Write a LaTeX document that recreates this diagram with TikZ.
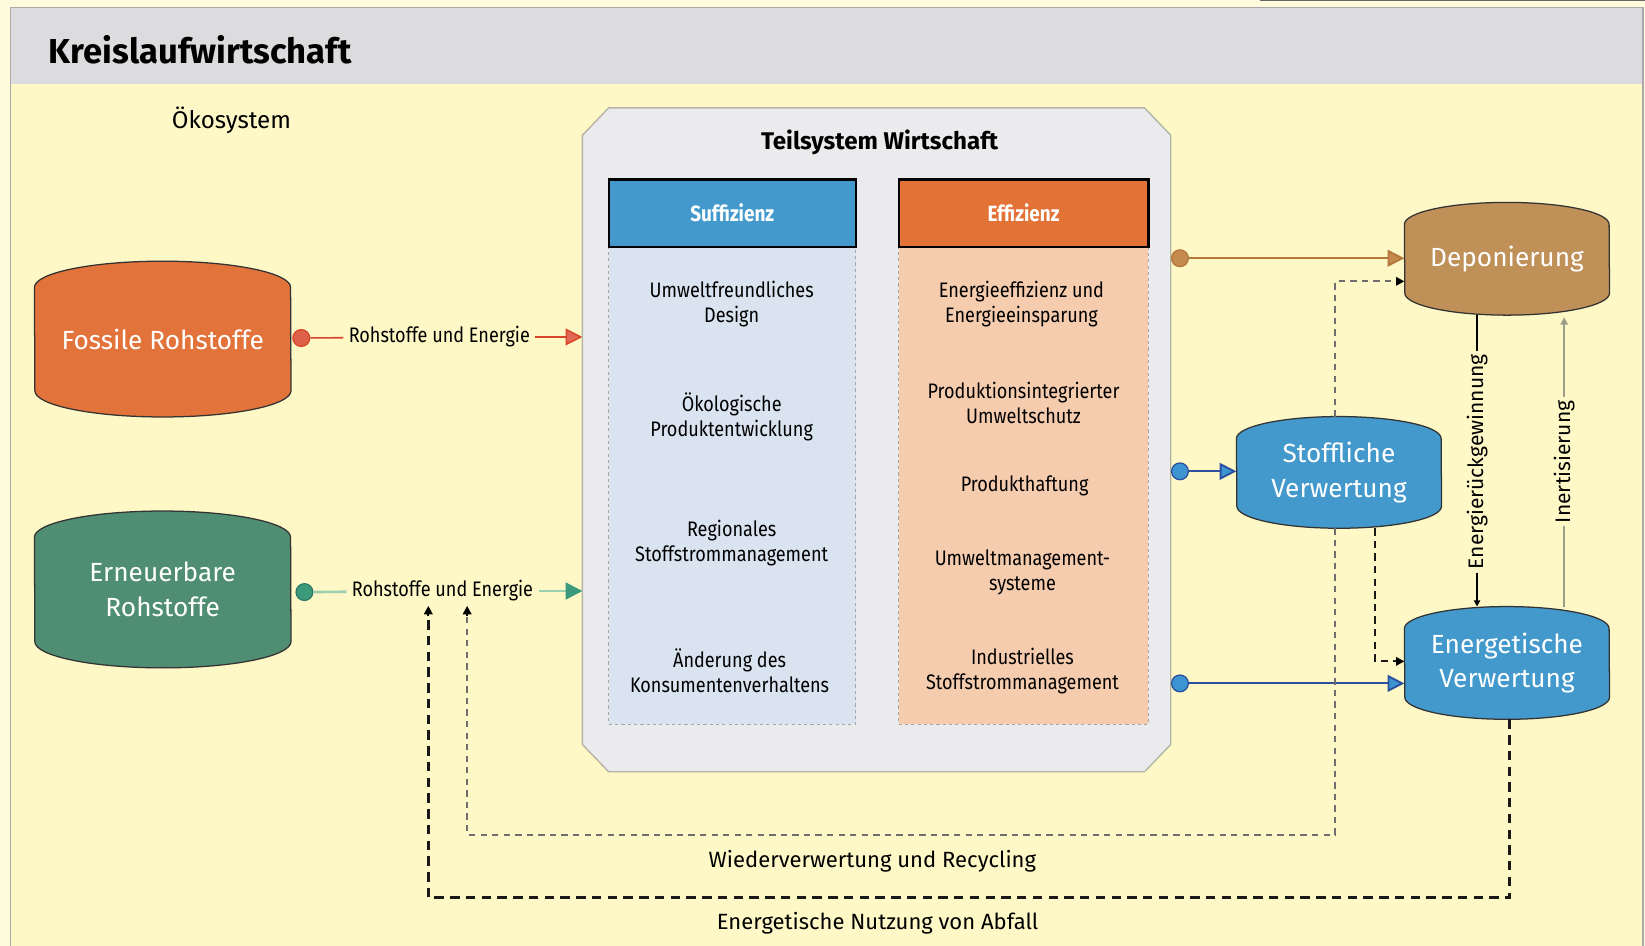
\documentclass[tikz,border=0pt]{standalone}
\usepackage{fontspec}
\setmainfont{Fira Sans}
\newfontfamily\condf[FakeStretch=0.86]{Fira Sans}
\usetikzlibrary{arrows.meta,calc}
\pgfdeclarelayer{back}
\pgfdeclarelayer{bg}
\pgfsetlayers{back,bg,main}
\definecolor{bgyellow}{HTML}{FDF8C6}
\definecolor{outeryellow}{HTML}{FEFBDC}
\definecolor{headgrey}{HTML}{DCDCDE}
\definecolor{framegrey}{HTML}{A9A9A9}
\definecolor{tsgrey}{HTML}{EBEBED}
\definecolor{tsline}{HTML}{B4B4A6}
\definecolor{sufblue}{HTML}{4399CC}
\definecolor{suflight}{HTML}{D9E4F0}
\definecolor{effor}{HTML}{E27235}
\definecolor{efflight}{HTML}{F6CCAF}
\definecolor{fosor}{HTML}{E2733A}
\definecolor{erngreen}{HTML}{4F8E73}
\definecolor{depbrown}{HTML}{BF9158}
\definecolor{cylblue}{HTML}{4399CC}
\definecolor{fosline}{HTML}{D9452A}
\definecolor{grnline}{HTML}{9CCFB0}
\definecolor{grndark}{HTML}{3A9A7B}
\definecolor{brnline}{HTML}{B5773A}
\definecolor{brnfill}{HTML}{C48A4E}
\definecolor{bluline}{HTML}{2D4FA0}
\definecolor{blufill}{HTML}{3C95D0}
\definecolor{inertline}{HTML}{9C9C88}
\definecolor{dashgrey}{HTML}{6E6E6E}
\newcommand{\cylbg}[4]{%
  \begin{pgfonlayer}{bg}
  \path[fill=#4, draw=black!80, line width=1.2pt]
    ([yshift=-#3pt]#1.north west) arc[start angle=180,end angle=0,x radius=#2pt,y radius=#3pt]
    -- ([yshift=#3pt]#1.south east) arc[start angle=0,end angle=-180,x radius=#2pt,y radius=#3pt]
    -- cycle;
  \end{pgfonlayer}}
\begin{document}
\begin{tikzpicture}[x=1pt,y=-1pt,
  cylnode/.style={inner sep=0pt, text=white, align=center,
    font=\fontsize{25}{33}\selectfont},
  item/.style={align=center, font=\condf\fontsize{20}{24}\selectfont},
  lbl/.style={inner xsep=5pt, inner ysep=2pt, font=\condf\fontsize{20}{24}\selectfont},
  dotc/.style={circle, minimum size=16pt, inner sep=0pt, line width=1.2pt},
  bigtip/.style={-{Triangle[length=16pt,width=16pt,fill=#1]}},
  smalltip/.style={-{Triangle[length=8pt,width=8pt,color=black]}},
  greydash/.style={draw=dashgrey, line width=2pt, dash pattern=on 6pt off 5pt},
  blackdash/.style={draw=black!90, line width=2.4pt, dash pattern=on 9pt off 6pt},
  botlbl/.style={font=\fontsize{21}{25}\selectfont},
  rotlbl/.style={rotate=90, inner sep=3pt, font=\fontsize{20}{24}\selectfont}
]
\useasboundingbox (0,0) rectangle (1567,901);
\begin{pgfonlayer}{back}
\fill[outeryellow] (0,0) rectangle (1567,901);
\fill[bgyellow] (10,7) rectangle (1565,901);
\fill[headgrey] (10,7) rectangle (1565,80);
\draw[framegrey, line width=1.5pt] (10,901) -- (10,7) -- (1565,7) -- (1565,901);
\draw[black!60, line width=1pt] (1200,0.6) -- (1567,0.6);
\end{pgfonlayer}

\node[anchor=west, font=\bfseries\fontsize{33}{40}\selectfont] (title) at (43,47) {Kreislaufwirtschaft};
\node[font=\fontsize{23}{28}\selectfont] (oeko) at (220.5,115) {Ökosystem};

% Teilsystem Wirtschaft
\node[minimum width=560pt, minimum height=632pt, inner sep=0pt] (ts) at (835,419) {};
\begin{pgfonlayer}{bg}
\path[fill=tsgrey, draw=tsline, line width=1.3pt]
  ([yshift=-26pt]ts.north west) -- ([xshift=25pt]ts.north west)
  -- ([xshift=-25pt]ts.north east) -- ([yshift=-26pt]ts.north east)
  -- ([yshift=26pt]ts.south east) -- ([xshift=-25pt]ts.south east)
  -- ([xshift=25pt]ts.south west) -- ([yshift=26pt]ts.south west) -- cycle;
\end{pgfonlayer}
\node[font=\bfseries\fontsize{23}{28}\selectfont] (tst) at (838,136) {Teilsystem Wirtschaft};

\node[fill=suflight, draw=black!35, dashed, line width=0.8pt, minimum width=235pt, minimum height=455pt] (sufb) at (697.5,462.5) {};
\node[fill=efflight, draw=black!35, dashed, line width=0.8pt, minimum width=238pt, minimum height=455pt] (effb) at (975,462.5) {};
\node[fill=sufblue, draw=black, line width=2pt, minimum width=235pt, minimum height=64pt, text=white,
  font=\bfseries\condf\fontsize{21}{25}\selectfont] (suf) at (697.5,203) {Suffizienz};
\node[fill=effor, draw=black, line width=2pt, minimum width=238pt, minimum height=64pt, text=white,
  font=\bfseries\condf\fontsize{21}{25}\selectfont] (eff) at (975,203) {Effizienz};

\node[item] (s1) at (697,290) {Umweltfreundliches\\Design};
\node[item] (s2) at (697,397) {Ökologische\\Produktentwicklung};
\node[item] (s3) at (697,517) {Regionales\\Stoffstrommanagement};
\node[item] (s4) at (695,639) {Änderung des\\Konsumentenverhaltens};
\node[item] (e1) at (973,290) {Energieeffizienz und\\Energieeinsparung};
\node[item] (e2) at (975,384) {Produktionsintegrierter\\Umweltschutz};
\node[item] (e3) at (976,463) {Produkthaftung};
\node[item] (e4) at (974,545) {Umweltmanagement-\\systeme};
\node[item] (e5) at (974,639) {Industrielles\\Stoffstrommanagement};

% cylinders
\node[cylnode, minimum width=244pt, minimum height=148pt] (fos) at (155,323) {Fossile Rohstoffe};
\cylbg{fos}{122}{25}{fosor}
\node[cylnode, minimum width=244pt, minimum height=149pt] (ern) at (155,561.5) {Erneuerbare\\Rohstoffe};
\cylbg{ern}{122}{25}{erngreen}
\node[cylnode, minimum width=195pt, minimum height=107pt] (dep) at (1435.5,246.5) {Deponierung};
\cylbg{dep}{97.5}{21}{depbrown}
\node[cylnode, minimum width=195pt, minimum height=106pt] (sto) at (1275.5,450) {Stoffliche\\Verwertung};
\cylbg{sto}{97.5}{21}{cylblue}
\node[cylnode, minimum width=195pt, minimum height=107pt] (ene) at (1435.5,631.5) {Energetische\\Verwertung};
\cylbg{ene}{97.5}{21}{cylblue}

% left connectors
\node[dotc, fill=fosline!85!white, draw=fosline] (fc) at (287,322) {};
\node[lbl] (fl) at (418.5,321) {Rohstoffe und Energie};
\draw[fosline, line width=1.5pt] (fc) -- (fl);
\draw[fosline, line width=1.5pt, bigtip=fosline!80!white] (fl) -- (fl -| ts.west);

\node[dotc, fill=grndark, draw=grndark!80!black] (gc) at (290,564) {};
\node[lbl] (gl) at (421.5,563) {Rohstoffe und Energie};
\draw[grnline, line width=2.5pt] (gc) -- (gl);
\draw[grnline, line width=2.5pt, -{Triangle[length=16pt,width=16pt,color=grndark]}] (gl) -- (gl -| ts.west);

% right connectors
\node[dotc, fill=brnfill, draw=brnline] (bc) at (1124,246) {};
\draw[brnline, line width=1.8pt, bigtip=brnfill] (bc) -- (bc -| dep.west);
\node[dotc, fill=blufill, draw=bluline] (b1) at (1124,449) {};
\draw[bluline, line width=1.8pt, bigtip=blufill] (b1) -- (b1 -| sto.west);
\node[dotc, fill=blufill, draw=bluline] (b2) at (1124,651) {};
\draw[bluline, line width=1.8pt, bigtip=blufill] (b2) -- (b2 -| ene.west);

% recycling loop (grey dashed)
\coordinate (g1) at (1272,268);
\coordinate (g2) at (1272,795);
\coordinate (g3) at (445,795);
\draw[greydash, smalltip] (sto.north -| g1) -- (g1) -- (g1 -| dep.west);
\draw[greydash] (sto.south -| g2) -- (g2) -- (g3) -- ([yshift=-10pt]g3 |- gl.south);
\draw[black, line width=2pt, smalltip] ([yshift=-12pt]g3 |- gl.south) -- ([yshift=-2pt]g3 |- gl.south);

% energy loop (black dashed)
\coordinate (k1) at (1438,855);
\coordinate (k2) at (408,855);
\draw[blackdash] (ene.south -| k1) -- (k1) -- (k2) -- ([yshift=-10pt]k2 |- gl.south);
\draw[black, line width=2pt, smalltip] ([yshift=-12pt]k2 |- gl.south) -- ([yshift=-2pt]k2 |- gl.south);

% Stoffliche -> Energetische
\coordinate (h1) at (1310,630);
\draw[blackdash, line width=2pt, dash pattern=on 7pt off 5pt, smalltip] (sto.south -| h1) -- (h1) -- (h1 -| ene.west);

% labels of loops
\node[botlbl] (wr) at (831,820) {Wiederverwertung und Recycling};
\node[botlbl] (ena) at (836,879) {Energetische Nutzung von Abfall};

% vertical links
\coordinate (v1) at (1407,440);
\coordinate (v2) at (1490,440);
\node[rotlbl] (erg) at (v1) {Energierückgewinnung};
\node[rotlbl] (ine) at (v2) {Inertisierung};
\draw[black, line width=1.5pt] (dep.south -| v1) -- (erg);
\draw[black, line width=1.5pt, -{Triangle[length=6pt,width=6pt]}] (erg) -- (ene.north -| v1);
\draw[inertline, line width=2pt] (ene.north -| v2) -- (ine);
\draw[inertline, line width=2pt, -{Triangle[length=7pt,width=7pt]}] (ine) -- ([yshift=-2pt]dep.south -| v2);
\end{tikzpicture}
\end{document}
